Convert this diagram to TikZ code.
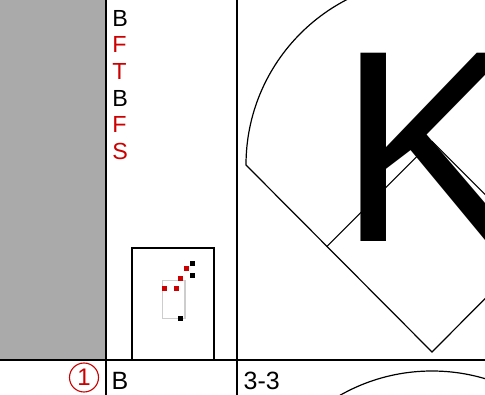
\documentclass[tikz,border=0pt]{standalone}
\usepackage{fontspec}
\setmainfont{Liberation Sans}
\definecolor{scred}{RGB}{204,0,0}
\definecolor{scgray}{RGB}{170,170,170}
\definecolor{sclight}{RGB}{205,205,205}
\begin{document}
\begin{tikzpicture}[x=1pt,y=-1pt,
  grid/.style={line width=1.2pt,black},
  field/.style={line width=1.2pt,black},
  lbl/.style={anchor=base west,inner sep=0pt,font=\fontsize{23.3}{26.7}\selectfont},
  redlbl/.style={lbl,text=scred},
  rowlbl/.style={anchor=base west,inner sep=0pt,font=\fontsize{25}{28}\selectfont},
  dotr/.style={fill=scred},
  dotk/.style={fill=black}]
\useasboundingbox (0,0) rectangle (485,395);
\begin{scope}
\clip (0,0) rectangle (485,395);
\fill[scgray] (0,0) rectangle (106,360);
% field
\draw[field] (618,165) -- (432,352) -- (246,165) arc[start angle=180,end angle=360,radius=186];
\draw[field] (326.7,246.7) -- (432,141.4) -- (537.3,246.7);
\draw[field] (432,557) circle[radius=186];
\end{scope}
% grid
\draw[grid] (106,0) -- (106,395);
\draw[grid] (237,0) -- (237,395);
\draw[grid] (0,360) -- (485,360);
% small box
\draw[grid] (132,360) -- (132,248) -- (214,248) -- (214,360);
\draw[sclight,line width=1.2pt] (162.3,280.7) rectangle (185,318.3);
\fill[dotk] (190,261) rectangle (195,266);
\fill[dotr] (184.3,266) rectangle (189.3,271);
\fill[dotk] (190,273.3) rectangle (195,278.3);
\fill[dotr] (178.3,275.7) rectangle (183.3,280.7);
\fill[dotr] (162.3,285.7) rectangle (167.3,290.7);
\fill[dotr] (174.2,285.7) rectangle (179.2,290.7);
\fill[dotk] (178,316) rectangle (183,321);
% letters
\node[lbl] (l1) at (112.2,26.2) {B};
\node[redlbl] (l2) at (112.2,52.9) {F};
\node[redlbl] (l3) at (112.2,79.6) {T};
\node[lbl] (l4) at (112.2,106.3) {B};
\node[redlbl] (l5) at (112.2,133.0) {F};
\node[redlbl] (l6) at (112.2,159.7) {S};
% K
\node[anchor=base west,inner sep=0pt,font=\fontsize{273.7}{273.7}\selectfont] (kk) at (338,242) {K};
% bottom row
\node[circle,draw=scred,text=scred,line width=1.1pt,minimum size=29pt,inner sep=0pt,font=\fontsize{24}{24}\selectfont] (num) at (84,377.5) {1};
\node[rowlbl] (bb) at (111.5,390) {B};
\node[rowlbl] (cnt) at (243.5,390) {3-3};
\end{tikzpicture}
\end{document}
